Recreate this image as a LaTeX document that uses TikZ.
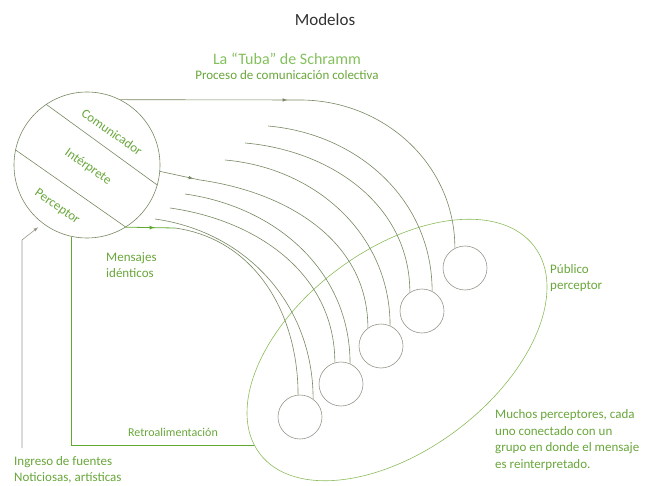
\documentclass[tikz,border=0pt]{standalone}
\usepackage{fontspec}
\setmainfont{Carlito}
\usepackage{tikz}
\usetikzlibrary{arrows,shapes,decorations.markings}

\definecolor{verde}{RGB}{104,166,58}
\definecolor{verdeclaro}{RGB}{132,192,92}
\definecolor{oliva}{RGB}{118,136,96}
\definecolor{gris}{RGB}{150,150,140}
\definecolor{verderetro}{RGB}{96,170,50}
\definecolor{verdeelipse}{RGB}{140,188,92}
\definecolor{titulo}{RGB}{50,50,50}

\tikzset{flecha/.style={postaction={decorate,decoration={markings,
	mark=at position #1 with {\arrow{latex}}}}}}

\begin{document}
\begin{tikzpicture}[x=1pt, y=1pt, >=latex]
	\tikzstyle{etiqueta} = [text=verde, font=\fontsize{13}{16.5}\selectfont,
	align=left, inner sep=0pt]
	\tikzstyle{receptor} = [circle, draw=gris, line width=0.6pt,
	minimum size=44pt, inner sep=0pt]
	\tikzstyle{mensaje} = [color=oliva, line width=0.6pt]
	\tikzstyle{retro} = [color=verderetro, line width=0.8pt]
	\useasboundingbox (0,0) rectangle (647,485);
	\node[font=\fontsize{17}{20}\selectfont, text=titulo] (modelos) at (325,465) {Modelos};
	\node[font=\fontsize{16}{19}\selectfont, text=verdeclaro] (tuba) at (287,426)
	{La “Tuba” de Schramm};
	\node[font=\fontsize{13}{15}\selectfont, text=verde] (proceso) at (287,410)
	{Proceso de comunicación colectiva};
	\node[circle, draw=oliva, line width=0.6pt, minimum size=146pt, inner sep=0pt]
	(fuente) at (87,320) {};
	\draw[mensaje] (fuente.124) -- (fuente.-16);
	\draw[mensaje] (fuente.168) -- (fuente.-58);
	\node[etiqueta, rotate=-35] (comunicador) at (112,353) {Comunicador};
	\node[etiqueta, rotate=-35] (interprete) at (88,318) {Intérprete};
	\node[etiqueta, rotate=-35] (perceptor) at (57,278) {Perceptor};
	\node[ellipse, draw=verdeelipse, line width=0.6pt, minimum width=344pt,
	minimum height=200pt, rotate=37] (publico) at (397,135) {};
	\node[receptor] (r1) at (300,68) {};
	\node[receptor] (r2) at (341,101) {};
	\node[receptor] (r3) at (381,139) {};
	\node[receptor] (r4) at (422,174) {};
	\node[receptor] (r5) at (465,217) {};
	\coordinate (m2) at (268,359);
	\coordinate (m3) at (245,342);
	\coordinate (m4) at (225,325);
	\coordinate (m6) at (185,291);
	\coordinate (m7) at (170,277);
	\coordinate (m8) at (155,266);
	\draw[mensaje, flecha=167pt] (fuente.63) -- (300,385) to[out=0, in=90] (r5.117);
	\draw[mensaje] (m2) to[out=-5, in=90] (r4.63);
	\draw[mensaje] (m3) to[out=-5, in=90] (r4.123);
	\draw[mensaje] (m4) to[out=-5, in=90] (r3.66);
	\draw[mensaje, flecha=34pt] (fuente.-5) -- (200,305) to[out=-8, in=90] (r3.126);
	\draw[mensaje] (m6) to[out=-8, in=90] (r2.66);
	\draw[mensaje] (m7) to[out=-8, in=90] (r2.106);
	\draw[mensaje] (m8) to[out=-8, in=90] (r1.54);
	\draw[retro, flecha=29pt] (fuente.-58) -- (175,257);
	\draw[mensaje] (175,257) to[out=-8, in=90] (r1.95);
	\coordinate (entrada) at (22,37);
	\draw[->, gris, line width=0.6pt, shorten >=6pt] (entrada) -- (22,245) -- (fuente.233);
	\coordinate (salida) at (254,40);
	\draw[retro] (salida) -| (fuente.258);
	\node[etiqueta, anchor=west] (mensajes) at (106,220) {Mensajes\\idénticos};
	\node[etiqueta, anchor=west] (publicolbl) at (550,207) {Público\\perceptor};
	\node[etiqueta, anchor=west] (muchos) at (495,45) {Muchos perceptores, cada\\uno
	conectado con un\\grupo en donde el mensaje\\es reinterpretado.};
	\node[etiqueta, font=\fontsize{12}{14}\selectfont] (retroalimentacion) at (173,53)
	{Retroalimentación};
	\node[etiqueta, anchor=west] (fuentes) at (14,15) {Ingreso de fuentes\\Noticiosas,
	artísticas};
\end{tikzpicture}
\end{document}
